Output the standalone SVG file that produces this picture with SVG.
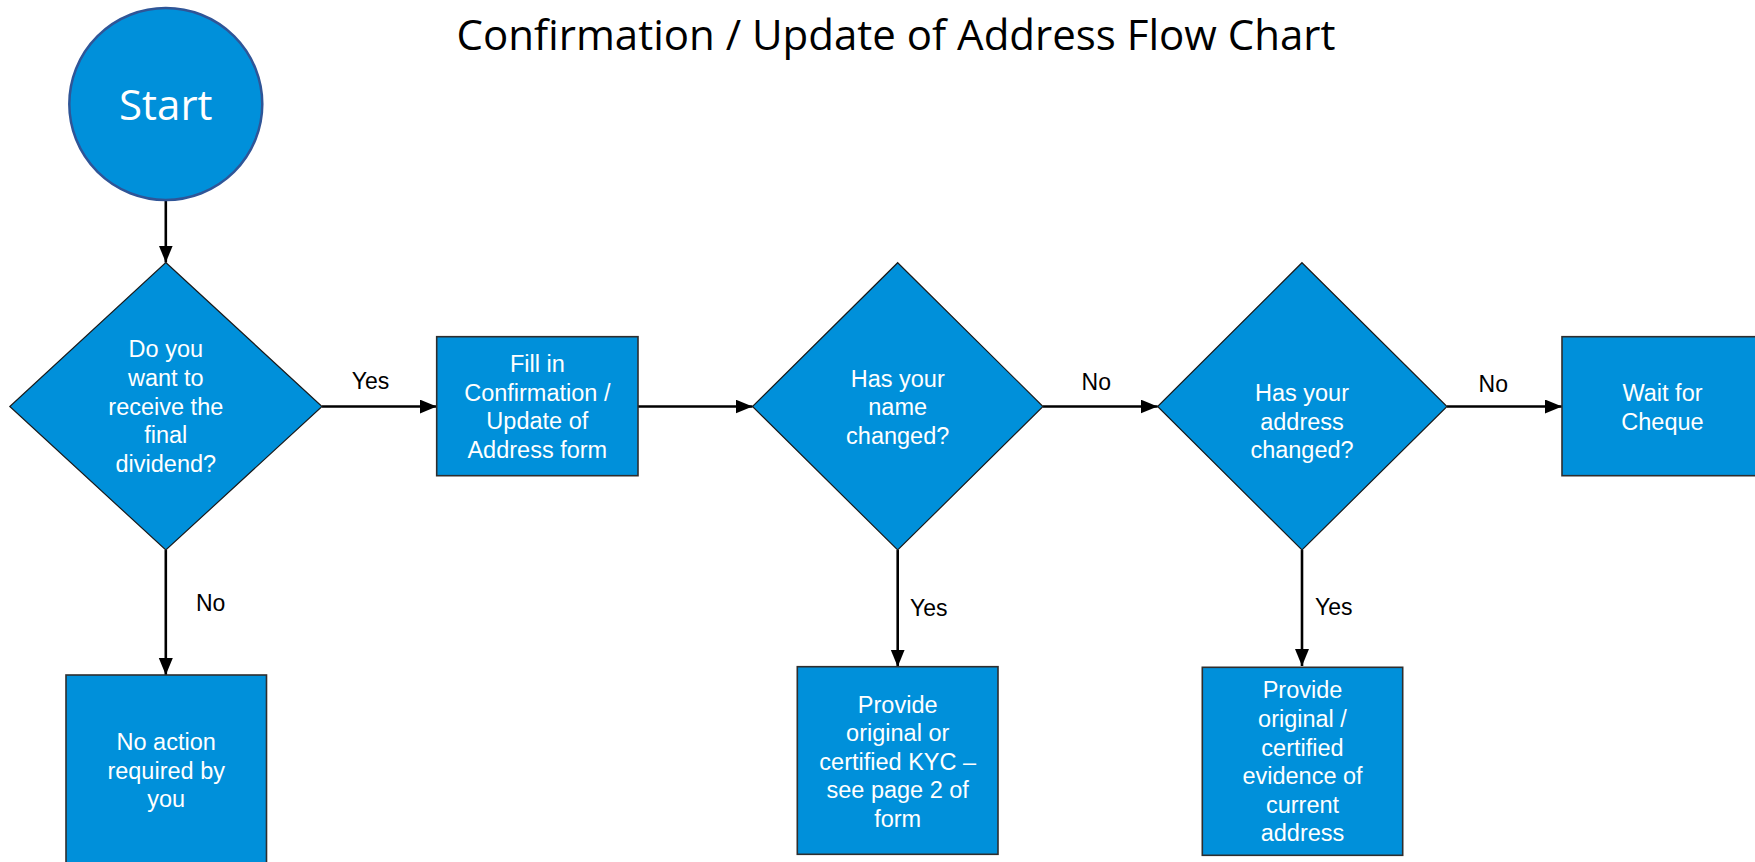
<svg xmlns="http://www.w3.org/2000/svg" width="1755" height="862" viewBox="0 0 1755 862">
<style>
.node{fill:#0090DA;}
.box{stroke:#2E2E2E;stroke-width:1.6;}
.dia{stroke:#1A1A1A;stroke-width:1.2;}
.start{stroke:#2F5597;stroke-width:2.5;}
.t{font-family:"Liberation Sans",Arial,sans-serif;font-size:23.5px;fill:#FFFFFF;text-anchor:middle;}
.lbl{font-family:"Liberation Sans",Arial,sans-serif;font-size:23px;fill:#000000;}
.cal{font-family:"Open Sans","Noto Sans",sans-serif;font-size:42px;}
.conn line{stroke:#000000;stroke-width:2.6;fill:none;marker-end:url(#arrow);}
</style>
<defs>
<marker id="arrow" markerUnits="userSpaceOnUse" markerWidth="18" markerHeight="16" refX="17" refY="7" orient="auto">
<path d="M0,0 L17,7 L0,14 z" fill="#000000"/>
</marker>
</defs>
<rect x="0" y="0" width="1755" height="862" fill="#FFFFFF"/>
<text class="cal" x="896" y="50" text-anchor="middle" fill="#000000">Confirmation / Update of Address Flow Chart</text>

<g id="connectors" class="conn">
<line x1="165.8" y1="201" x2="165.8" y2="262.5"/>
<line x1="322" y1="406.5" x2="436.7" y2="406.5"/>
<line x1="638" y1="406.5" x2="752.5" y2="406.5"/>
<line x1="1043" y1="406.5" x2="1157.6" y2="406.5"/>
<line x1="1447" y1="406.5" x2="1562" y2="406.5"/>
<line x1="165.8" y1="550" x2="165.8" y2="675"/>
<line x1="897.7" y1="550" x2="897.7" y2="666.7"/>
<line x1="1302" y1="550" x2="1302" y2="666"/>
</g>

<g id="labels">
<text class="lbl" x="351.7" y="389.3">Yes</text>
<text class="lbl" x="1081.6" y="390">No</text>
<text class="lbl" x="1478.6" y="391.7">No</text>
<text class="lbl" x="196" y="611">No</text>
<text class="lbl" x="910" y="616">Yes</text>
<text class="lbl" x="1315" y="615">Yes</text>
</g>

<g id="start">
<ellipse class="node start" cx="165.8" cy="104" rx="96.5" ry="96"/>
<text class="cal" x="165.8" y="119.6" text-anchor="middle" fill="#FFFFFF">Start</text>
</g>

<g id="q-dividend">
<polygon class="node dia" points="165.8,262.5 322,406.5 165.8,550 9.8,406.5"/>
<text class="t" x="165.8" y="357.3">Do you</text>
<text class="t" x="165.8" y="386">want to</text>
<text class="t" x="165.8" y="414.7">receive the</text>
<text class="t" x="165.8" y="443.3">final</text>
<text class="t" x="165.8" y="472">dividend?</text>
</g>

<g id="fill-form">
<rect class="node box" x="436.7" y="336.7" width="201.3" height="139"/>
<text class="t" x="537.3" y="371.7">Fill in</text>
<text class="t" x="537.3" y="400.5">Confirmation /</text>
<text class="t" x="537.3" y="429.2">Update of</text>
<text class="t" x="537.3" y="457.8">Address form</text>
</g>

<g id="q-name">
<polygon class="node dia" points="897.7,262.7 1043,406.5 897.7,550 752.5,406.5"/>
<text class="t" x="897.7" y="386.7">Has your</text>
<text class="t" x="897.7" y="415.2">name</text>
<text class="t" x="897.7" y="443.7">changed?</text>
</g>

<g id="q-address">
<polygon class="node dia" points="1302,262.7 1447,406.5 1302,550 1157.6,406.5"/>
<text class="t" x="1302" y="401">Has your</text>
<text class="t" x="1302" y="429.6">address</text>
<text class="t" x="1302" y="458.3">changed?</text>
</g>

<g id="wait">
<rect class="node box" x="1562" y="336.7" width="201" height="139"/>
<text class="t" x="1662.5" y="401">Wait for</text>
<text class="t" x="1662.5" y="429.6">Cheque</text>
</g>

<g id="no-action">
<rect class="node box" x="66" y="675" width="200.5" height="200"/>
<text class="t" x="166.2" y="750">No action</text>
<text class="t" x="166.2" y="778.6">required by</text>
<text class="t" x="166.2" y="807.2">you</text>
</g>

<g id="kyc">
<rect class="node box" x="797.3" y="666.7" width="200.7" height="187.6"/>
<text class="t" x="897.7" y="712.7">Provide</text>
<text class="t" x="897.7" y="741.2">original or</text>
<text class="t" x="897.7" y="769.7">certified KYC –</text>
<text class="t" x="897.7" y="798.2">see page 2 of</text>
<text class="t" x="897.7" y="826.7">form</text>
</g>

<g id="evidence">
<rect class="node box" x="1202.3" y="667.3" width="200.4" height="188"/>
<text class="t" x="1302.5" y="698.3">Provide</text>
<text class="t" x="1302.5" y="726.9">original /</text>
<text class="t" x="1302.5" y="755.5">certified</text>
<text class="t" x="1302.5" y="784.1">evidence of</text>
<text class="t" x="1302.5" y="812.6">current</text>
<text class="t" x="1302.5" y="841.1">address</text>
</g>
</svg>
